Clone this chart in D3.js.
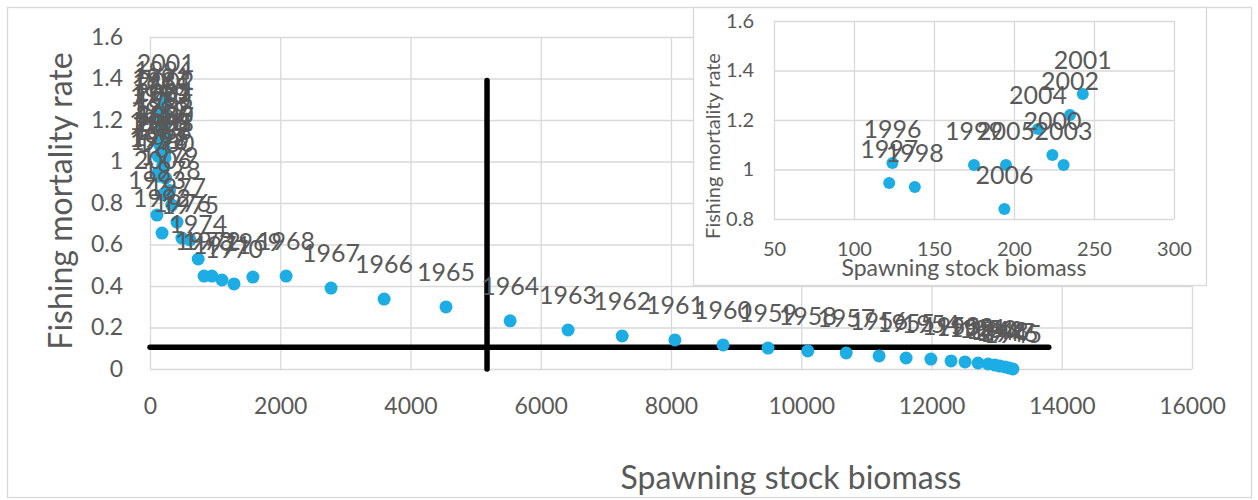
<!DOCTYPE html>
<html>
<head>
<meta charset="utf-8">
<script src="https://cdn.jsdelivr.net/npm/d3@7"></script>
<style>
  body{margin:0;background:#fff;}
  text{font-family:Lato,'Noto Sans',sans-serif;fill:#595959;}
</style>
</head>
<body>
<div class="canvas" id="canvas" style="width:1258px;height:500px"></div>
<script>
//Data
var years = [1945,1946,1947,1948,1949,1950,1951,1952,1953,1954,1955,1956,1957,1958,1959,
    1960,1961,1962,1963,1964,1965,1966,1967,1968,1969,1970,1971,1972,1973,1974,1975,1976,
    1977,1978,1979,1980,1981,1982,1983,1984,1985,1986,1987,1988,1989,1990,1991,1992,1993,
    1994,1995,1996,1997,1998,1999,2000,2001,2002,2003,2004,2005,2006];
var ssb = [13250,13190,13130,13050,12975,12870,12715,12515,12300,11990,11610,11195,10690,10100,9490,
    8800,8060,7250,6420,5530,4545,3595,2780,2090,1580,1290,1105,950,830,740,615,490,
    415,335,300,240,210,190,200,175,160,215,230,195,150,140,170,185,107,
    205,160,124,122,138,175,224,243,235,231,215,195,194];
var fmort = [0.0,0.005,0.010,0.014,0.019,0.024,0.029,0.034,0.039,0.048,0.053,0.063,0.077,0.087,0.101,
    0.116,0.140,0.159,0.188,0.232,0.299,0.337,0.390,0.448,0.443,0.410,0.429,0.448,0.448,0.530,0.622,0.631,
    0.708,0.79,0.86,0.92,1.02,1.10,1.16,1.22,1.19,1.13,1.05,0.98,1.08,1.15,1.24,0.655,0.742,
    1.27,0.95,1.026,0.945,0.929,1.018,1.059,1.305,1.22,1.018,1.164,1.018,0.84];

//Reference lines
var refF = [[0,0.105],[13800,0.105]];
var refB = [[5175,0],[5175,1.39]];

//Ticks
var xTicks = [0,2000,4000,6000,8000,10000,12000,14000,16000];
var yTicks = [0,0.2,0.4,0.6,0.8,1,1.2,1.4,1.6];
var insetXTicks = [50,100,150,200,250,300];
var insetYTicks = [0.8,1,1.2,1.4,1.6];
var insetFrom = 1996;

var W = 1258, H = 500;
var grid = '#d9d9d9', dotColor = '#1cade4';

var svg = d3.select('.canvas')
    .append('svg')
    .attr('width', W)
    .attr('height', H);

//chart frame
svg.append('rect')
    .attr('x',7.5).attr('y',7.5)
    .attr('width',1244).attr('height',490)
    .style('fill','#fff').style('stroke',grid).style('stroke-width',1.3);

//Main scatter
var x = d3.scaleLinear().domain([0,16000]).range([150,1192]);
var y = d3.scaleLinear().domain([0,1.6]).range([369,37]);

var main = svg.append('g').attr('class','main');

var xAxis = main.append('g')
    .attr('transform','translate(0,369)')
    .call(d3.axisBottom(x).tickValues(xTicks).tickSize(-(369-37)).tickFormat(function(d){return d;}));
var yAxis = main.append('g')
    .attr('transform','translate(150,0)')
    .call(d3.axisLeft(y).tickValues(yTicks).tickSize(-(1192-150)).tickFormat(function(d){return d;}));

[xAxis,yAxis].forEach(function(a){
    a.select('.domain').remove();
    a.selectAll('line').style('stroke',grid).style('stroke-width',1.3);
    a.selectAll('text').style('font-size','23px').style('fill','#595959');
});
xAxis.selectAll('text').attr('y',45).attr('dy',0);
yAxis.selectAll('text').attr('x',-27);

var line = d3.line()
    .x(function(d){return x(d[0]);})
    .y(function(d){return y(d[1]);});

[refF,refB].forEach(function(r){
    main.append('path')
        .datum(r)
        .attr('d',line)
        .style('fill','none')
        .style('stroke','#000')
        .style('stroke-width',5.5)
        .style('stroke-linecap','round');
});

var pts = years.map(function(yr,i){return {year:yr,ssb:ssb[i],f:fmort[i]};});

main.selectAll('.dot')
    .data(pts)
    .enter()
    .append('circle').attr('class','dot')
    .attr('cx',function(d){return x(d.ssb);})
    .attr('cy',function(d){return y(d.f);})
    .attr('r',6.5)
    .style('fill',dotColor);

main.selectAll('.lbl')
    .data(pts)
    .enter()
    .append('text').attr('class','lbl')
    .attr('x',function(d){return x(d.ssb);})
    .attr('y',function(d){return y(d.f)-26;})
    .attr('text-anchor','middle')
    .style('font-size','25px')
    .text(function(d){return d.year;});

main.append('text')
    .attr('transform','translate(72,201) rotate(-90)')
    .attr('text-anchor','middle')
    .style('font-size','32px')
    .text('Fishing mortality rate');

main.append('text')
    .attr('x',791).attr('y',489)
    .attr('text-anchor','middle')
    .style('font-size','32px')
    .text('Spawning stock biomass');

//Inset scatter (recent years)
var ix = d3.scaleLinear().domain([50,300]).range([774,1174]);
var iy = d3.scaleLinear().domain([0.8,1.6]).range([219,21]);

var inset = svg.append('g').attr('class','inset');

inset.append('rect')
    .attr('x',693.5).attr('y',7.5)
    .attr('width',513).attr('height',278)
    .style('fill','#fff').style('stroke',grid).style('stroke-width',1.3);

var ixAxis = inset.append('g')
    .attr('transform','translate(0,219)')
    .call(d3.axisBottom(ix).tickValues(insetXTicks).tickSize(-(219-21)).tickFormat(function(d){return d;}));
var iyAxis = inset.append('g')
    .attr('transform','translate(774,0)')
    .call(d3.axisLeft(iy).tickValues(insetYTicks).tickSize(-(1174-774)).tickFormat(function(d){return d;}));

[ixAxis,iyAxis].forEach(function(a){
    a.select('.domain').remove();
    a.selectAll('line').style('stroke',grid).style('stroke-width',1.3);
    a.selectAll('text').style('font-size','20px').style('fill','#595959');
});
ixAxis.selectAll('text').attr('y',37).attr('dy',0);
iyAxis.selectAll('text').attr('x',-20);

var recent = pts.filter(function(d){return d.year >= insetFrom;});

inset.selectAll('.dot')
    .data(recent)
    .enter()
    .append('circle').attr('class','dot')
    .attr('cx',function(d){return ix(d.ssb);})
    .attr('cy',function(d){return iy(d.f);})
    .attr('r',6)
    .style('fill',dotColor);

inset.selectAll('.lbl')
    .data(recent)
    .enter()
    .append('text').attr('class','lbl')
    .attr('x',function(d){return ix(d.ssb);})
    .attr('y',function(d){return iy(d.f)-25;})
    .attr('text-anchor','middle')
    .style('font-size','25px')
    .text(function(d){return d.year;});

inset.append('text')
    .attr('transform','translate(720,146) rotate(-90)')
    .attr('text-anchor','middle')
    .style('font-size','20px')
    .text('Fishing mortality rate');

inset.append('text')
    .attr('x',964).attr('y',276)
    .attr('text-anchor','middle')
    .style('font-size','23px')
    .text('Spawning stock biomass');
</script>
</body>
</html>
